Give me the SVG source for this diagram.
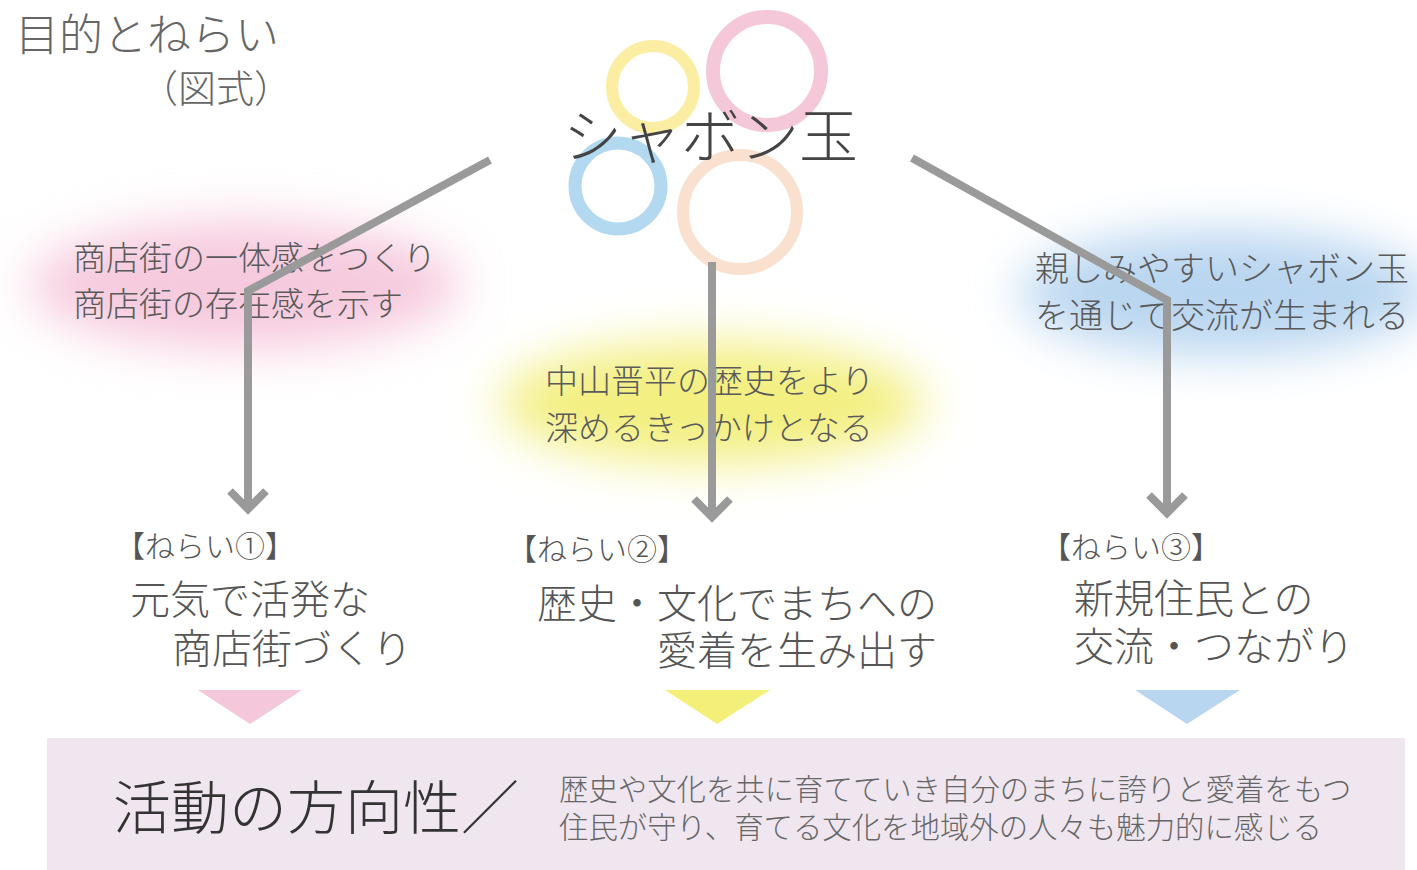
<svg xmlns="http://www.w3.org/2000/svg" width="1417" height="870" viewBox="0 0 1417 870">
<style>
text{font-family:"Noto Sans CJK JP","Noto Sans",sans-serif;font-weight:300;fill:#555}
.blob{font-size:33px;fill:#5a5a5a}
.lab{font-size:30px;fill:#555}
.goal{font-size:40px;fill:#555}
.con{fill:none;stroke:#9a9a9a;stroke-width:8;stroke-linejoin:miter}
.ring{fill:none}
</style>
<defs>
<filter id="blur" x="-30%" y="-60%" width="160%" height="220%"><feGaussianBlur stdDeviation="24"/></filter>
</defs>
<rect width="1417" height="870" fill="#fff"/>

<g id="title">
<text x="15" y="51" style="font-size:44px;fill:#666">目的とねらい</text>
<text x="140" y="102" style="font-size:38px;fill:#666">（図式）</text>
</g>

<g id="bubbles">
<circle class="ring" cx="653" cy="87" r="41" stroke="#fbeea2" stroke-width="12"/>
<circle class="ring" cx="767" cy="71" r="54" stroke="#f5c8d9" stroke-width="14"/>
<circle class="ring" cx="618" cy="186" r="43" stroke="#b3d9f1" stroke-width="13"/>
<circle class="ring" cx="740" cy="212" r="57" stroke="#f9e0cf" stroke-width="12"/>
<text x="563" y="158" style="font-size:59px;fill:#444">シャボン玉</text>
</g>

<g id="effect1">
<ellipse cx="245" cy="285" rx="215" ry="64" fill="#f6cade" filter="url(#blur)"/>
<text class="blob" x="73" y="270">商店街の一体感をつくり</text>
<text class="blob" x="73" y="316">商店街の存在感を示す</text>
</g>

<g id="effect2">
<ellipse cx="712" cy="403" rx="212" ry="60" fill="#f3ef80" filter="url(#blur)"/>
<text class="blob" x="545" y="393">中山晋平の歴史をより</text>
<text class="blob" x="545" y="440">深めるきっかけとなる</text>
</g>

<g id="effect3">
<ellipse cx="1225" cy="293" rx="205" ry="62" fill="#b9d6f0" filter="url(#blur)"/>
<text class="blob" x="1035" y="281" style="font-size:34px">親しみやすいシャボン玉</text>
<text class="blob" x="1035" y="328" style="font-size:34px">を通じて交流が生まれる</text>
</g>

<g id="connectors">
<polyline class="con" points="490,160 248,291 248,508"/>
<polyline class="con" points="230,491 248,509 266,491"/>
<line class="con" x1="712" y1="262" x2="712" y2="517"/>
<polyline class="con" points="694,499 712,517 730,499"/>
<polyline class="con" points="912,158 1167,300 1167,513"/>
<polyline class="con" points="1149,495 1167,513 1185,495"/>
</g>

<g id="aim1">
<text class="lab" x="115" y="557">【ねらい①】</text>
<text class="goal" x="130" y="614">元気で活発な</text>
<text class="goal" x="172" y="663">商店街づくり</text>
<polygon points="198,690 302,690 250,724" fill="#f5c7da"/>
</g>

<g id="aim2">
<text class="lab" x="507" y="560">【ねらい②】</text>
<text class="goal" x="537" y="618">歴史・文化でまちへの</text>
<text class="goal" x="657" y="665">愛着を生み出す</text>
<polygon points="665,690 770,690 717,724" fill="#f3ef78"/>
</g>

<g id="aim3">
<text class="lab" x="1041" y="558">【ねらい③】</text>
<text class="goal" x="1074" y="613">新規住民との</text>
<text class="goal" x="1074" y="661">交流・つながり</text>
<polygon points="1135,690 1240,690 1187,724" fill="#b8d6f0"/>
</g>

<g id="direction">
<rect x="47" y="738" width="1358" height="132" fill="#efe6f0"/>
<text x="113" y="829" style="font-size:58px;fill:#333">活動の方向性／</text>
<text x="559" y="800" style="font-size:29.4px;fill:#666">歴史や文化を共に育てていき自分のまちに誇りと愛着をもつ</text>
<text x="559" y="838" style="font-size:29.4px;fill:#666">住民が守り、育てる文化を地域外の人々も魅力的に感じる</text>
</g>
</svg>
